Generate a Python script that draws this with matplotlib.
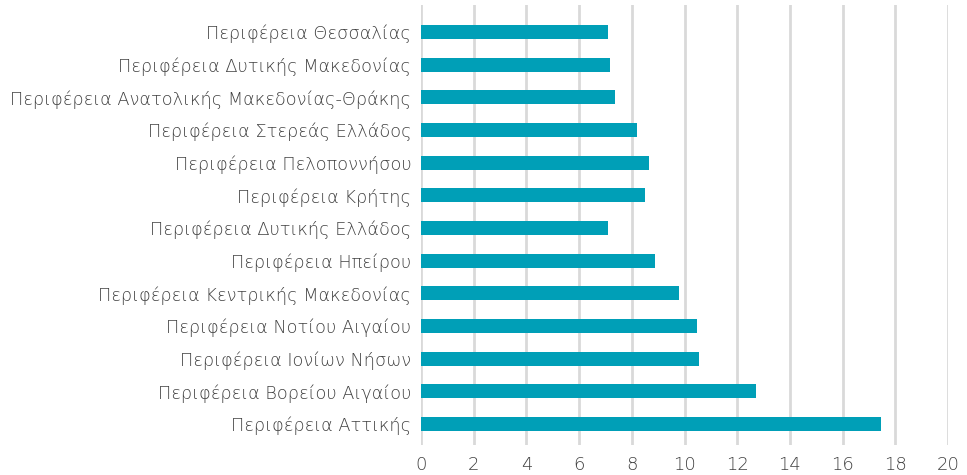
import matplotlib
matplotlib.use("Agg")
import matplotlib.pyplot as plt

regions = [
    "Περιφέρεια Θεσσαλίας",
    "Περιφέρεια Δυτικής Μακεδονίας",
    "Περιφέρεια Ανατολικής Μακεδονίας-Θράκης",
    "Περιφέρεια Στερεάς Ελλάδος",
    "Περιφέρεια Πελοποννήσου",
    "Περιφέρεια Κρήτης",
    "Περιφέρεια Δυτικής Ελλάδος",
    "Περιφέρεια Ηπείρου",
    "Περιφέρεια Κεντρικής Μακεδονίας",
    "Περιφέρεια Νοτίου Αιγαίου",
    "Περιφέρεια Ιονίων Νήσων",
    "Περιφέρεια Βορείου Αιγαίου",
    "Περιφέρεια Αττικής",
]
values = [7.10, 7.18, 7.37, 8.20, 8.66, 8.51, 7.10, 8.88, 9.79, 10.47, 10.55, 12.72, 17.46]
xticks = [0, 2, 4, 6, 8, 10, 12, 14, 16, 18, 20]

plt.rcParams['font.family'] = ['DejaVu Sans']

fig = plt.figure(figsize=(9.67, 4.75), dpi=100)
ax = fig.add_axes([421/967, 30/475, (948-421)/967, 440/475])

n = len(regions)
pos = [n - 1 - i for i in range(n)]
ax.barh(pos, values, height=0.43, color='#009fb7', zorder=3)
ax.set_yticks(pos)
ax.set_yticklabels(regions, fontsize=12.8, color='#404040', fontweight='light')
ax.set_ylim(-0.64, 12.83)
ax.set_xlim(0, 20)
ax.set_xticks(xticks)
ax.set_xticklabels([str(t) for t in xticks], fontsize=13, color='#404040', fontweight='light')
ax.grid(axis='x', color='#d9d9d9', linewidth=2, zorder=0)
for s in ax.spines.values():
    s.set_visible(False)
ax.tick_params(axis='y', length=0, pad=7)
ax.tick_params(axis='x', length=0, pad=8)

fig.savefig("out.png", dpi=100)
